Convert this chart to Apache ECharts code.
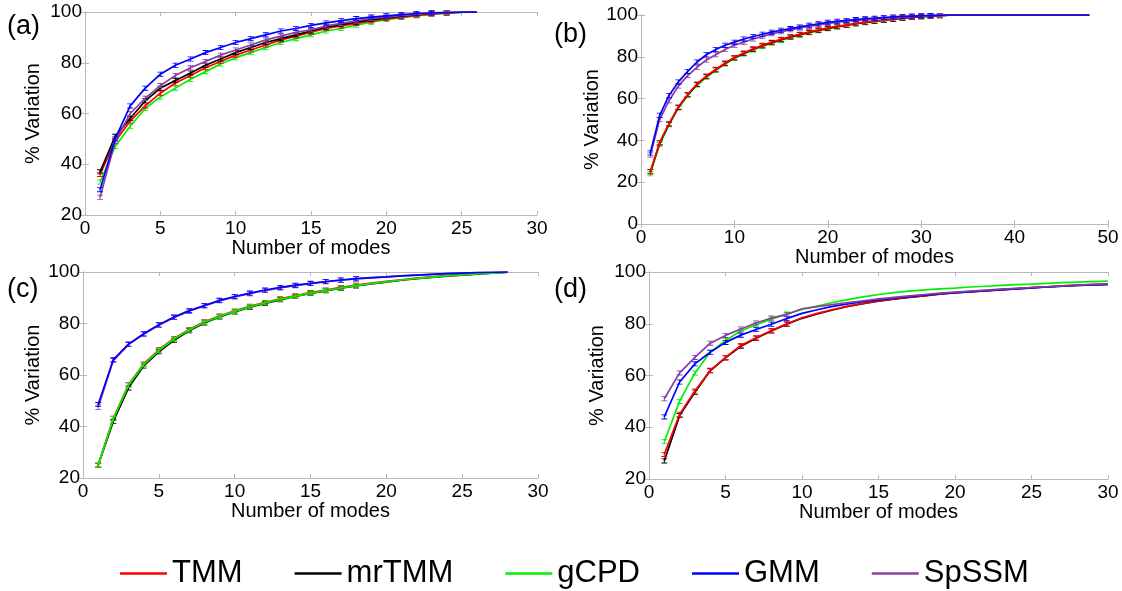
<!DOCTYPE html>
<html>
<head>
<meta charset="utf-8">
<script src="https://cdn.jsdelivr.net/npm/echarts@6/dist/echarts.min.js"></script>
<style>
  html, body { margin: 0; padding: 0; background: #ffffff; }
  #chart { width: 1122px; height: 591px; }
</style>
</head>
<body>
<div id="chart"></div>
<script>
// Cumulative % variation explained vs. number of modes, four datasets (a)-(d)
const methods = ['TMM', 'mrTMM', 'gCPD', 'GMM', 'SpSSM'];

// (a) modes 1..26
const a_TMM   = [36, 49, 57, 63, 68, 72, 75, 78, 80.5, 83, 85, 87, 89, 90.5, 92, 93.5, 94.5, 95.5, 96.5, 97.3, 98, 98.7, 99.2, 99.6, 99.9, 100];
const a_mrTMM = [37, 51, 58, 65, 70, 73, 76, 79, 81.5, 84, 86, 88, 89.5, 91, 92.5, 94, 95, 96, 97, 97.7, 98.4, 99, 99.4, 99.7, 99.9, 100];
const a_gCPD  = [33, 47, 55, 62, 66.5, 70, 73.5, 76.5, 79.5, 82, 84, 86, 88, 89.5, 91, 92.5, 93.5, 94.8, 96, 97, 97.8, 98.5, 99.1, 99.5, 99.8, 100];
const a_GMM   = [30, 50, 63, 70, 75.5, 79, 81.5, 84, 86, 88, 89.5, 91, 92.5, 93.5, 94.7, 95.7, 96.6, 97.4, 98, 98.5, 99, 99.4, 99.7, 99.9, 100, 100];
const a_SpSSM = [27, 49, 60, 66, 71, 75, 78, 80.5, 83, 85, 87, 89, 90.5, 92, 93, 94.5, 95.5, 96.5, 97.5, 98, 98.6, 99.1, 99.5, 99.8, 100, 100];

// (b) modes 1..48
const b_TMM   = [25, 39, 48, 56, 62, 67, 70.8, 74, 77, 79.7, 81.8, 83.8, 85.5, 87, 88.4, 89.7, 90.8, 91.9, 92.9, 93.8, 94.6, 95.3, 96, 96.6, 97.2, 97.7, 98.2, 98.6, 99, 99.3, 99.6, 99.8, 99.9, 100, 100, 100, 100, 100, 100, 100, 100, 100, 100, 100, 100, 100, 100, 100];
const b_mrTMM = [25, 38.8, 47.8, 55.8, 61.8, 66.8, 70.6, 73.8, 76.8, 79.5, 81.6, 83.6, 85.3, 86.8, 88.2, 89.5, 90.6, 91.7, 92.7, 93.6, 94.4, 95.1, 95.8, 96.4, 97, 97.5, 98, 98.5, 98.9, 99.2, 99.5, 99.7, 99.9, 100, 100, 100, 100, 100, 100, 100, 100, 100, 100, 100, 100, 100, 100, 100];
const b_gCPD  = [24, 38, 47.5, 55.5, 61.5, 66.5, 70.2, 73.6, 76.6, 79.2, 81.3, 83.3, 85, 86.5, 87.9, 89.2, 90.4, 91.5, 92.5, 93.4, 94.2, 95, 95.7, 96.3, 96.9, 97.4, 97.9, 98.4, 98.8, 99.1, 99.4, 99.7, 99.9, 100, 100, 100, 100, 100, 100, 100, 100, 100, 100, 100, 100, 100, 100, 100];
const b_GMM   = [34, 52, 61.5, 68, 73, 77.5, 81, 83.5, 85.5, 87, 88.5, 89.7, 90.8, 91.8, 92.7, 93.5, 94.3, 95.1, 95.8, 96.5, 97, 97.4, 97.8, 98.2, 98.5, 98.8, 99.1, 99.3, 99.5, 99.7, 99.8, 99.9, 100, 100, 100, 100, 100, 100, 100, 100, 100, 100, 100, 100, 100, 100, 100, 100];
const b_SpSSM = [33, 50, 59, 66, 71, 75, 78.5, 81, 83.5, 85.5, 87, 88.5, 89.8, 91, 92, 92.9, 93.8, 94.6, 95.3, 96, 96.5, 97, 97.4, 97.8, 98.2, 98.5, 98.8, 99.1, 99.3, 99.5, 99.7, 99.8, 99.9, 100, 100, 100, 100, 100, 100, 100, 100, 100, 100, 100, 100, 100, 100, 100];

// (c) modes 1..28
const c_TMM   = [25, 43.2, 56.2, 64.3, 69.8, 74.2, 77.7, 80.7, 82.9, 84.9, 86.7, 88.2, 89.6, 90.8, 92, 93, 94, 94.9, 95.7, 96.4, 97, 97.6, 98.1, 98.6, 99, 99.4, 99.7, 99.9];
const c_mrTMM = [25, 42, 55, 63.5, 69, 73.5, 77.2, 80.2, 82.5, 84.5, 86.3, 87.8, 89.2, 90.5, 91.7, 92.7, 93.7, 94.6, 95.4, 96.1, 96.8, 97.4, 97.9, 98.4, 98.8, 99.2, 99.6, 99.9];
const c_gCPD  = [25, 43, 56, 64, 69.5, 74, 77.5, 80.5, 82.7, 84.7, 86.5, 88, 89.4, 90.6, 91.8, 92.8, 93.8, 94.7, 95.5, 96.2, 96.9, 97.5, 98, 98.5, 98.9, 99.3, 99.6, 99.9];
const c_GMM   = [48.5, 66, 72, 76, 79.5, 82.5, 85, 87, 89, 90.5, 91.8, 93, 94, 94.9, 95.6, 96.3, 96.9, 97.4, 97.8, 98.1, 98.5, 98.8, 99.1, 99.4, 99.6, 99.8, 99.9, 100];
const c_SpSSM = [47.5, 65.6, 71.8, 75.8, 79.3, 82.3, 84.8, 86.8, 88.8, 90.3, 91.6, 92.8, 93.8, 94.7, 95.5, 96.2, 96.8, 97.3, 97.7, 98.1, 98.5, 98.8, 99.1, 99.4, 99.6, 99.8, 99.9, 100];

// (d) modes 1..30
const d_TMM   = [29.5, 45, 54, 62, 67, 71.6, 74.6, 77.4, 80, 82.3, 84, 85.5, 86.8, 87.9, 88.8, 89.6, 90.3, 90.9, 91.5, 92, 92.4, 92.8, 93.2, 93.6, 94, 94.3, 94.6, 94.9, 95.1, 95.3];
const d_mrTMM = [27, 44.5, 53.5, 61.8, 66.8, 71.3, 74.4, 77.2, 79.8, 82.1, 83.8, 85.3, 86.7, 87.8, 88.7, 89.5, 90.2, 90.8, 91.4, 91.9, 92.3, 92.7, 93.1, 93.5, 93.9, 94.2, 94.5, 94.8, 95, 95.2];
const d_gCPD  = [34.5, 50, 61, 69, 73.5, 77.2, 79.6, 81.8, 83.8, 85.5, 86.8, 88.2, 89.3, 90.4, 91.3, 92, 92.6, 93.1, 93.5, 93.8, 94.2, 94.5, 94.8, 95.1, 95.3, 95.6, 95.9, 96.1, 96.3, 96.5];
const d_GMM   = [44, 57.5, 64.5, 69, 72.8, 75.6, 77.8, 79.8, 82, 84, 85.4, 86.7, 87.7, 88.5, 89.2, 89.9, 90.5, 91.1, 91.6, 92, 92.4, 92.8, 93.2, 93.5, 93.9, 94.2, 94.5, 94.8, 95, 95.2];
const d_SpSSM = [51, 61, 67, 72.5, 75.5, 78, 80.3, 82.2, 83.6, 85.8, 86.6, 87.4, 88.2, 88.9, 89.6, 90.2, 90.8, 91.3, 91.8, 92.2, 92.6, 93, 93.4, 93.7, 94, 94.3, 94.6, 94.9, 95.2, 95.4];

const xTicks = { a: [0, 30, 5], b: [0, 50, 10], c: [0, 30, 5], d: [0, 30, 5] };
const yTicks = { a: [20, 100, 20], b: [0, 100, 20], c: [20, 100, 20], d: [20, 100, 20] };

const panelData = {
  a: { TMM: a_TMM, mrTMM: a_mrTMM, gCPD: a_gCPD, GMM: a_GMM, SpSSM: a_SpSSM },
  b: { TMM: b_TMM, mrTMM: b_mrTMM, gCPD: b_gCPD, GMM: b_GMM, SpSSM: b_SpSSM },
  c: { TMM: c_TMM, mrTMM: c_mrTMM, gCPD: c_gCPD, GMM: c_GMM, SpSSM: c_SpSSM },
  d: { TMM: d_TMM, mrTMM: d_mrTMM, gCPD: d_gCPD, GMM: d_GMM, SpSSM: d_SpSSM }
};

// ---- styling / layout ----
const colors = { TMM: '#ff0000', mrTMM: '#000000', gCPD: '#00f000', GMM: '#0000ff', SpSSM: '#8a3f9e' };
const panels = [
  { key: 'a', grid: { left: 85,  top: 12,  width: 452, height: 203 }, yGap: 42, xGap: 21, markTo: 24,
    order: ['gCPD', 'TMM', 'mrTMM', 'SpSSM', 'GMM'], letter: [7, 13] },
  { key: 'b', grid: { left: 641, top: 15,  width: 467, height: 209 }, yGap: 38, xGap: 20, markTo: 33,
    order: ['gCPD', 'mrTMM', 'TMM', 'SpSSM', 'GMM'], letter: [554, 21] },
  { key: 'c', grid: { left: 83,  top: 272, width: 455, height: 206 }, yGap: 40, xGap: 18, markTo: 18,
    order: ['mrTMM', 'TMM', 'gCPD', 'SpSSM', 'GMM'], letter: [7, 276] },
  { key: 'd', grid: { left: 649, top: 272, width: 459, height: 207 }, yGap: 42, xGap: 21, markTo: 9,
    order: ['mrTMM', 'TMM', 'gCPD', 'GMM', 'SpSSM'], letter: [554, 276] }
];

const FONT = "'Liberation Sans', Arial, Helvetica, sans-serif";
const AXIS_GREY = '#b8b8b8';
const errorBar = 'path://M0,0H10V1.6H5.8V8.4H10V10H0V8.4H4.2V1.6H0Z';

const grids = [], xAxes = [], yAxes = [], series = [], graphics = [];

panels.forEach((p, gi) => {
  grids.push(Object.assign({ containLabel: false }, p.grid));
  const [xmin, xmax, xint] = xTicks[p.key];
  const [ymin, ymax, yint] = yTicks[p.key];
  const common = {
    type: 'value', gridIndex: gi, splitLine: { show: false },
    axisLine: { show: true, lineStyle: { color: AXIS_GREY, width: 1 } },
    axisTick: { show: true, inside: true, length: 4, lineStyle: { color: AXIS_GREY } }
  };
  xAxes.push(Object.assign({}, common, {
    position: 'bottom', min: xmin, max: xmax, interval: xint,
    axisLabel: { color: '#000', fontSize: 19, fontFamily: FONT, margin: 4 },
    name: 'Number of modes', nameLocation: 'middle', nameGap: p.xGap,
    nameTextStyle: { color: '#000', fontSize: 20, fontFamily: FONT }
  }));
  xAxes.push(Object.assign({}, common, {
    position: 'top', min: xmin, max: xmax, interval: xint, axisLabel: { show: false }
  }));
  yAxes.push(Object.assign({}, common, {
    position: 'left', min: ymin, max: ymax, interval: yint,
    axisLabel: { color: '#000', fontSize: 19, fontFamily: FONT, margin: 3 },
    name: '% Variation', nameLocation: 'middle', nameGap: p.yGap, nameRotate: 90,
    nameTextStyle: { color: '#000', fontSize: 20, fontFamily: FONT }
  }));
  yAxes.push(Object.assign({}, common, {
    position: 'right', min: ymin, max: ymax, interval: yint, axisLabel: { show: false }
  }));

  p.order.forEach((name, k) => {
    const vals = panelData[p.key][name];
    series.push({
      name: name, type: 'line',
      xAxisIndex: gi * 2, yAxisIndex: gi * 2,
      data: vals.map((v, i) => [i + 1, v]),
      z: 2 + k,
      color: colors[name],
      lineStyle: { width: 1.7, color: colors[name] },
      itemStyle: { color: colors[name] },
      symbol: errorBar,
      symbolKeepAspect: false,
      symbolSize: (val) => (val[0] <= p.markTo && val[1] < 99.9) ? [6, 5] : 0,
      showSymbol: true,
      emphasis: { disabled: true },
      animation: false
    });
  });

  graphics.push({
    type: 'text', left: p.letter[0], top: p.letter[1],
    style: { text: '(' + p.key + ')', fontSize: 27, fontFamily: FONT, fill: '#000' }
  });
});

const chart = echarts.init(document.getElementById('chart'), null, { renderer: 'canvas' });
chart.setOption({
  backgroundColor: '#ffffff',
  animation: false,
  grid: grids,
  xAxis: xAxes,
  yAxis: yAxes,
  series: series,
  graphic: graphics,
  legend: {
    data: methods,
    left: 115, top: 553,
    icon: 'rect', itemWidth: 47, itemHeight: 2.5, itemGap: 52,
    selectedMode: false,
    textStyle: { color: '#000', fontSize: 31, fontFamily: FONT, padding: [0, 0, 0, 0] }
  }
});
</script>
</body>
</html>
